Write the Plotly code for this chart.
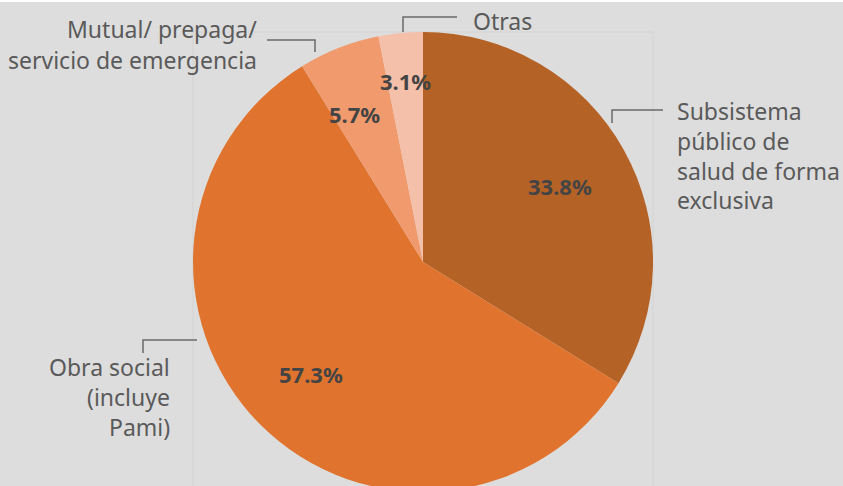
import math
import plotly.graph_objects as go

# ---- data ----
categories = ["Subsistema público de salud de forma exclusiva",
              "Obra social (incluye Pami)",
              "Mutual/ prepaga/ servicio de emergencia",
              "Otras"]
values = [33.8, 57.3, 5.7, 3.1]
pct_labels = ["33.8%", "57.3%", "5.7%", "3.1%"]
colors = ["#b56226", "#e0742e", "#f09a6e", "#f5c0aa"]

W, H = 843, 524
CX, CY, R = 423, 262, 230  # pie geometry in pixels (style)


def px(x):
    return x / W


def py(y):
    return 1 - y / H


fig = go.Figure(go.Pie(
    labels=categories,
    values=values,
    marker=dict(colors=colors, line=dict(width=0)),
    sort=False,
    direction="clockwise",
    rotation=0,
    textinfo="none",
    hoverinfo="label+value",
    showlegend=False,
    domain=dict(x=[px(CX - R), px(CX + R)], y=[py(CY + R), py(CY - R)]),
))

annotations = []
shapes = []

# percentage labels placed from data-derived mid angles
radial_frac = [0.68, 0.69, 0.71, 0.79]
angle_tweak = [0, 0, -3.5, 0]
total = sum(values)
cum = 0
for v, lab, rf, tw in zip(values, pct_labels, radial_frac, angle_tweak):
    mid = (cum + v / 2) / total * 360 + tw
    cum += v
    x = CX + R * rf * math.sin(math.radians(mid))
    y = CY - R * rf * math.cos(math.radians(mid))
    annotations.append(dict(
        x=px(x), y=py(y), xref="paper", yref="paper", text=lab,
        showarrow=False, xanchor="center", yanchor="middle",
        font=dict(family="Noto Sans", size=22, color="#444444", weight="bold"),
    ))

TXT = dict(family="Noto Sans", size=23, color="#5a5a5a")


def add_lines(lines, x, anchor, centers):
    for t, cy in zip(lines, centers):
        annotations.append(dict(
            x=px(x), y=py(cy), xref="paper", yref="paper", text=t,
            showarrow=False, xanchor=anchor, yanchor="middle", font=TXT,
        ))


add_lines(["Mutual/ prepaga/", "servicio de emergencia"], 259, "right", [29, 60])
add_lines(["Otras"], 471, "left", [21])
add_lines(["Subsistema", "público de", "salud de forma", "exclusiva"], 675, "left",
          [111, 141, 171, 200])
add_lines(["Obra social", "(incluye", "Pami)"], 172, "right", [367, 397, 427])

# leader lines
LINE = dict(color="#6a6a6a", width=1.5)


def leader(pts):
    path = "M " + " L ".join(f"{px(a)},{py(b)}" for a, b in pts)
    shapes.append(dict(type="path", path=path, xref="paper", yref="paper", line=LINE))


leader([(267, 40), (315, 40), (315, 52)])
leader([(457, 17), (403, 17), (403, 32)])
leader([(663, 110), (612, 110), (612, 123)])
leader([(197, 340), (143, 340), (143, 353)])

# faint frame behind pie
shapes.append(dict(type="path", xref="paper", yref="paper", layer="below",
                   path=f"M {px(193)},{py(520)} L {px(193)},{py(32)} L {px(653)},{py(32)} L {px(653)},{py(520)}",
                   line=dict(color="#d3d3d3", width=1)))
# white strip at top
shapes.append(dict(type="rect", xref="paper", yref="paper", layer="below",
                   x0=0, x1=1, y0=py(2), y1=1, fillcolor="#ffffff", line=dict(width=0)))

fig.update_layout(
    width=W, height=H,
    margin=dict(l=0, r=0, t=0, b=0),
    paper_bgcolor="#dddddd",
    plot_bgcolor="#dddddd",
    annotations=annotations,
    shapes=shapes,
)

fig.write_html(
    "out.html",
    config={"displayModeBar": False},
    post_script="document.body.style.margin='0';document.body.style.overflow='hidden';",
)
